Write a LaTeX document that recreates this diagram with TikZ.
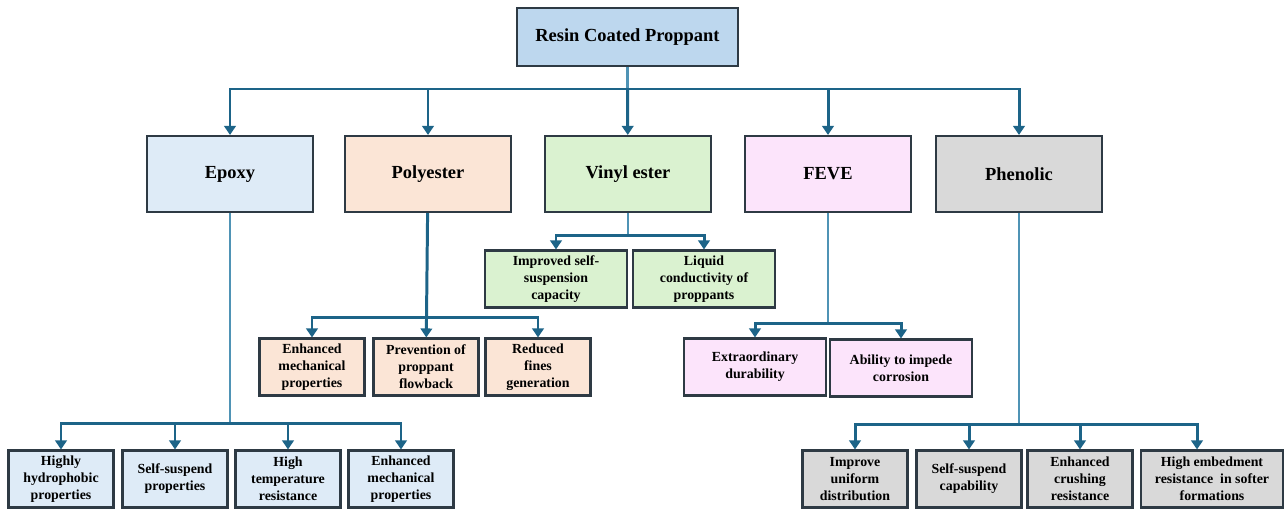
\documentclass[tikz,border=0pt]{standalone}
\usepackage{fontspec}
\setmainfont{Liberation Serif}
\usepackage{tikz}
\usetikzlibrary{arrows.meta, positioning}

\definecolor{rootfill}{HTML}{BDD7EE}
\definecolor{epfill}{HTML}{DEEBF7}
\definecolor{pefill}{HTML}{FBE5D6}
\definecolor{vefill}{HTML}{DAF2D0}
\definecolor{fefill}{HTML}{FCE4FB}
\definecolor{phfill}{HTML}{D9D9D9}
\definecolor{edge}{HTML}{2E3A44}
\definecolor{link}{HTML}{1D6488}
\definecolor{stemc}{HTML}{4F93B5}

\begin{document}
\begin{tikzpicture}[
      x=0.02cm, y=-0.02cm,
      box/.style={draw=edge, line width=1.2pt, align=center, inner sep=1pt},
      rootbox/.style={box, fill=rootfill, minimum width=4.42cm, minimum height=1.16cm,
                      font=\fontsize{10.5}{12}\selectfont\bfseries},
      cat/.style={box, minimum width=3.32cm, minimum height=1.52cm,
                  font=\fontsize{10.5}{12}\selectfont\bfseries},
      leaf/.style={box, minimum width=2.1cm, minimum height=1.14cm,
                   font=\fontsize{7.9}{9.6}\selectfont\bfseries},
      wleaf/.style={leaf, minimum width=2.84cm},
      a/.style={link, line width=1.7pt, -{Triangle[length=1.8mm, width=2.3mm]}},
      stem/.style={stemc, line width=1.2pt},
    ]
    \useasboundingbox (0,0) rectangle (1285,508);

    % ---- root and the five resin types ----
    \node[rootbox] (root) at (627.5,37) {Resin Coated Proppant};
    \node[cat, fill=epfill] (epoxy) at (230,174) {Epoxy};
    \node[cat, fill=pefill] (poly)  at (428,174) {Polyester};
    \node[cat, fill=vefill] (vinyl) at (628,174) {Vinyl ester};
    \node[cat, fill=fefill] (feve)  at (828,174) {FEVE};
    \node[cat, fill=phfill] (phen)  at (1019,174) {Phenolic};

    \coordinate (rb) at (627.5,89);
    \draw[stem] (root) -- (rb);
    \draw[a] (rb) -| (epoxy);
    \draw[a] (rb) -| (poly);
    \draw[a] (rb) -- (vinyl);
    \draw[a] (rb) -| (feve);
    \draw[a] (rb) -| (phen);

    % ---- epoxy ----
    \node[leaf, fill=epfill] (ep1) at (61,479)  {Highly\\hydrophobic\\properties};
    \node[leaf, fill=epfill] (ep2) at (175,479) {Self-suspend\\properties};
    \node[leaf, fill=epfill] (ep3) at (288,479) {High\\temperature\\resistance};
    \node[leaf, fill=epfill] (ep4) at (401,479) {Enhanced\\mechanical\\properties};
    \coordinate (eb) at (230,423);
    \draw[stem] (epoxy) -- (eb);
    \foreach \n in {ep1,ep2,ep3,ep4} \draw[a] (eb) -| (\n);

    % ---- polyester ----
    \node[leaf, fill=pefill] (pe1) at (312,367) {Enhanced\\mechanical\\properties};
    \node[leaf, fill=pefill] (pe2) at (426,367) {Prevention of\\proppant\\flowback};
    \node[leaf, fill=pefill] (pe3) at (538,367) {Reduced\\fines\\generation};
    \coordinate (pb) at (426,317);
    \draw[a] (poly) -- (pe2);
    \draw[a] (pb) -| (pe1);
    \draw[a] (pb) -| (pe3);

    % ---- vinyl ester ----
    \node[wleaf, fill=vefill] (ve1) at (556,279) {Improved self-\\suspension\\capacity};
    \node[wleaf, fill=vefill] (ve2) at (704,279) {Liquid\\conductivity of\\proppants};
    \coordinate (vb) at (628,235);
    \draw[stem] (vinyl) -- (vb);
    \draw[a] (vb) -| (ve1);
    \draw[a] (vb) -| (ve2);

    % ---- FEVE ----
    \node[wleaf, fill=fefill] (fe1) at (755,367) {Extraordinary\\durability};
    \node[wleaf, fill=fefill] (fe2) at (901,368) {Ability to impede\\corrosion};
    \coordinate (fb) at (828,323);
    \draw[stem] (feve) -- (fb);
    \draw[a] (fb) -| (fe1);
    \draw[a] (fb) -| (fe2);

    % ---- phenolic ----
    \node[leaf, fill=phfill] (ph1) at (855,479)  {Improve\\uniform\\distribution};
    \node[leaf, fill=phfill] (ph2) at (969,479)  {Self-suspend\\capability};
    \node[leaf, fill=phfill] (ph3) at (1080,479) {Enhanced\\crushing\\resistance};
    \node[wleaf, fill=phfill] (ph4) at (1212,479) {High embedment\\resistance\ \ in softer\\formations};
    \coordinate (hb) at (1019,424);
    \draw[stem] (phen) -- (hb);
    \foreach \n in {ph1,ph2,ph3} \draw[a] (hb) -| (\n);
    \draw[a] (hb) -| ([xshift=-0.3cm]ph4.north);
  \end{tikzpicture}
\end{document}
